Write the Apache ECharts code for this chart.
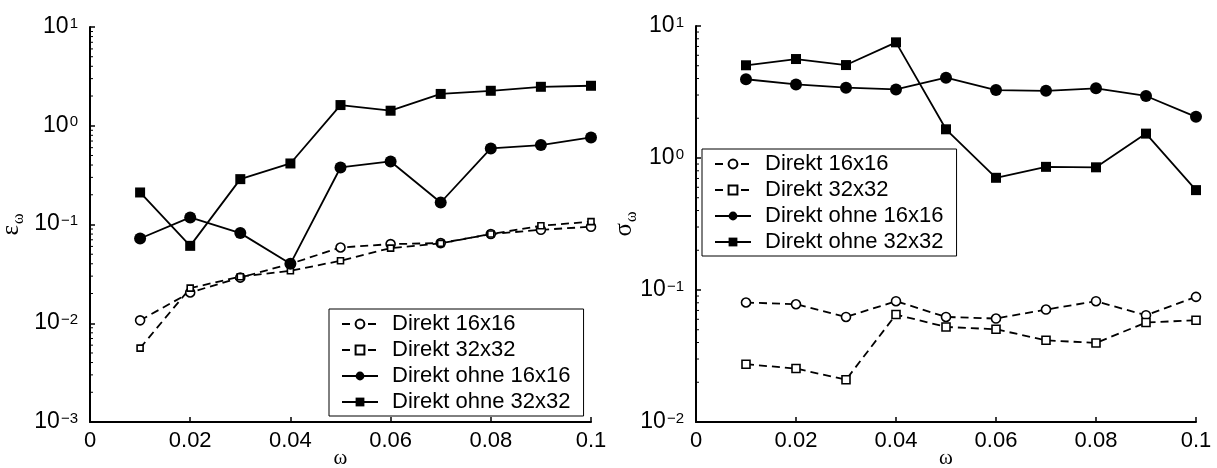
<!DOCTYPE html>
<html>
<head>
<meta charset="utf-8">
<script src="https://cdn.jsdelivr.net/npm/echarts@6/dist/echarts.min.js"></script>
<style>
html,body{margin:0;padding:0;background:#fff;}
#chart{width:1217px;height:468px;}
</style>
</head>
<body>
<div id="chart"></div>
<script>
// ---- data ----
const omega = [0.01, 0.02, 0.03, 0.04, 0.05, 0.06, 0.07, 0.08, 0.09, 0.1];
const seriesNames = ['Direkt 16x16', 'Direkt 32x32', 'Direkt ohne 16x16', 'Direkt ohne 32x32'];

// left panel: epsilon_omega
const epsDirekt16 = [0.0107, 0.0205, 0.0290, 0.0400, 0.0585, 0.0633, 0.0648, 0.0800, 0.0884, 0.0948];
const epsDirekt32 = [0.0056, 0.0227, 0.0296, 0.0340, 0.0429, 0.0577, 0.0644, 0.0800, 0.0970, 0.1070];
const epsOhne16   = [0.0721, 0.118, 0.0818, 0.0400, 0.378, 0.435, 0.167, 0.589, 0.637, 0.762];
const epsOhne32   = [0.211, 0.0608, 0.288, 0.415, 1.62, 1.42, 2.10, 2.26, 2.48, 2.54];

// right panel: sigma_omega
const sigDirekt16 = [0.0804, 0.0780, 0.0625, 0.0822, 0.0625, 0.0608, 0.0711, 0.0822, 0.0644, 0.0887];
const sigDirekt32 = [0.0274, 0.0254, 0.0209, 0.0652, 0.0525, 0.0504, 0.0416, 0.0397, 0.0567, 0.0590];
const sigOhne16   = [3.95, 3.61, 3.41, 3.31, 4.06, 3.27, 3.23, 3.37, 2.95, 2.05];
const sigOhne32   = [5.04, 5.62, 5.06, 7.52, 1.65, 0.708, 0.857, 0.850, 1.53, 0.571];

const xTicks = [0, 0.02, 0.04, 0.06, 0.08, 0.1];
const leftDecades = [-3, -2, -1, 0, 1];
const rightDecades = [-2, -1, 0, 1];

// ---- helpers ----
function pairs(ys) { return omega.map((x, i) => [x, ys[i]]); }
function minorVals(decs) {
  const out = [];
  for (let d = 0; d < decs.length - 1; d++) {
    for (let k = 2; k <= 9; k++) out.push([0, k * Math.pow(10, decs[d])]);
  }
  return out;
}
const FONT = 'Liberation Sans';
const SERIF = 'Liberation Serif';

function makeX(gi) {
  return {
    type: 'value', gridIndex: gi, min: 0, max: 0.1, interval: 0.02,
    name: 'ω', nameLocation: 'middle', nameGap: 26, nameMoveOverlap: false,
    nameTextStyle: { fontFamily: SERIF, fontSize: 21, color: '#000', verticalAlign: 'top' },
    axisLine: { show: true, lineStyle: { color: '#000', width: 2 } },
    axisTick: { show: true, inside: true, length: 5, lineStyle: { color: '#000', width: 1.5 } },
    axisLabel: {
      color: '#000', fontFamily: FONT, fontSize: 22, margin: 8,
      formatter: v => String(+v.toFixed(2))
    },
    splitLine: { show: false }
  };
}
function makeY(gi, decs, symbol, gap) {
  return {
    type: 'log', logBase: 10, gridIndex: gi,
    min: Math.pow(10, decs[0]), max: Math.pow(10, decs[decs.length - 1]),
    name: '{e|' + symbol + '}{w|ω}', nameLocation: 'middle', nameGap: gap, nameRotate: 90,
    nameMoveOverlap: false,
    nameTextStyle: {
      color: '#000',
      rich: {
        e: { fontFamily: SERIF, fontSize: 25, color: '#000', lineHeight: 24, verticalAlign: 'top' },
        w: { fontFamily: SERIF, fontSize: 16, color: '#000', lineHeight: 16, verticalAlign: 'bottom', padding: [0, 0, -4, 1] }
      }
    },
    axisLine: { show: true, lineStyle: { color: '#000', width: 2 } },
    axisTick: { show: true, inside: true, length: 5, lineStyle: { color: '#000', width: 1.5 } },
    axisLabel: {
      margin: 12, fontFamily: FONT, fontSize: 22, color: '#000',
      formatter: v => {
        const e = Math.round(Math.log10(v));
        return '{b|10}{s|' + (e < 0 ? '\u2212' + (-e) : e) + '}';
      },
      rich: {
        b: { fontFamily: FONT, fontSize: 23, color: '#000', lineHeight: 22, verticalAlign: 'bottom' },
        s: { fontFamily: FONT, fontSize: 15, color: '#000', lineHeight: 15, verticalAlign: 'top', padding: [0, 0, 10, 1] }
      }
    },
    splitLine: { show: false }
  };
}

function lineSeries(name, gi, data, dashed, symbol, size, filled) {
  return {
    type: 'line', name: name, xAxisIndex: gi, yAxisIndex: gi,
    data: pairs(data),
    symbol: symbol, symbolSize: size, showSymbol: true,
    lineStyle: { color: '#000', width: 1.8, type: dashed ? [8, 5] : 'solid' },
    itemStyle: { color: filled ? '#000' : '#fff', borderColor: '#000', borderWidth: filled ? 0 : 1.6 },
    emphasis: { disabled: true },
    animation: false, z: 3
  };
}
function minorSeries(gi, decs) {
  return {
    type: 'custom', name: 'minor' + gi, xAxisIndex: gi, yAxisIndex: gi,
    data: minorVals(decs), silent: true, animation: false, clip: false, z: 1,
    encode: { x: 0, y: 1 },
    renderItem: (params, api) => {
      const p = api.coord([api.value(0), api.value(1)]);
      return { type: 'line', shape: { x1: p[0], y1: p[1], x2: p[0] + 3, y2: p[1] },
        style: { stroke: '#000', lineWidth: 1 } };
    }
  };
}
function makeLegend(left, top) {
  return {
    left: left, top: top, orient: 'vertical',
    data: seriesNames,
    backgroundColor: '#fff', borderColor: '#000', borderWidth: 1,
    padding: [4, 13, 3, 12], itemGap: 4, itemWidth: 36, itemHeight: 11,
    selectedMode: false,
    textStyle: { fontFamily: FONT, fontSize: 22, color: '#000', lineHeight: 22, padding: [0, 0, 0, 9] }
  };
}

const option = {
  backgroundColor: '#fff',
  animation: false,
  grid: [
    { left: 90, top: 27, width: 501, height: 395, containLabel: false, outerBoundsMode: 'none' },
    { left: 696, top: 26, width: 500, height: 396, containLabel: false, outerBoundsMode: 'none' }
  ],
  xAxis: [makeX(0), makeX(1)],
  yAxis: [makeY(0, leftDecades, 'ε', 67), makeY(1, rightDecades, 'σ', 60)],
  legend: [makeLegend(329, 309), makeLegend(702, 149)],
  series: [
    lineSeries(seriesNames[0], 0, epsDirekt16, true, 'circle', 9, false),
    lineSeries(seriesNames[1], 0, epsDirekt32, true, 'rect', 6, false),
    lineSeries(seriesNames[2], 0, epsOhne16, false, 'circle', 12, true),
    lineSeries(seriesNames[3], 0, epsOhne32, false, 'rect', 10, true),
    lineSeries(seriesNames[0], 1, sigDirekt16, true, 'circle', 9, false),
    lineSeries(seriesNames[1], 1, sigDirekt32, true, 'rect', 8, false),
    lineSeries(seriesNames[2], 1, sigOhne16, false, 'circle', 12, true),
    lineSeries(seriesNames[3], 1, sigOhne32, false, 'rect', 10, true),
    minorSeries(0, leftDecades),
    minorSeries(1, rightDecades)
  ]
};
const chart = echarts.init(document.getElementById('chart'), null, { renderer: 'canvas' });
chart.setOption(option);
</script>
</body>
</html>
